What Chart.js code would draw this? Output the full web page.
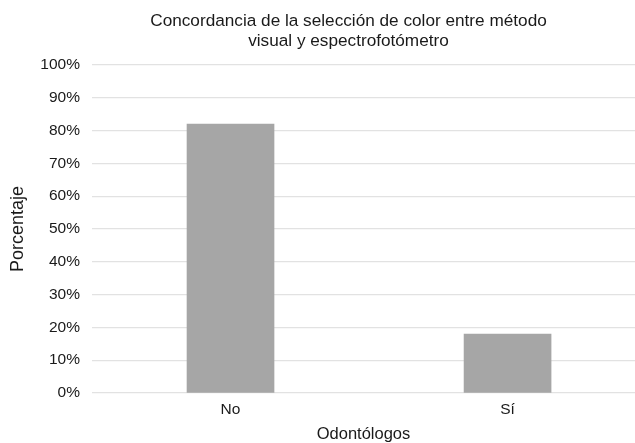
<!DOCTYPE html>
<html>
<head>
<meta charset="utf-8">
<script src="https://cdn.jsdelivr.net/npm/chart.js@4.4.1/dist/chart.umd.min.js"></script>
<style>
  html, body { margin: 0; padding: 0; background: #ffffff; }
  #wrap { width: 635px; height: 443px; }
</style>
</head>
<body>
<div id="wrap"><canvas id="chart"></canvas></div>
<script>
// Respuestas de los odontólogos
const categories = ['No', 'Sí'];
const percentages = [82, 18];
const titleLines = ['Concordancia de la selección de color entre método', 'visual y espectrofotómetro'];
const yTickValues = [0, 10, 20, 30, 40, 50, 60, 70, 80, 90, 100];

const FONT = '"Liberation Sans", Arial, Helvetica, sans-serif';
const TEXT = '#1a1a1a';

// Two-line title centred slightly left of the plot panel
const titlePlugin = {
  id: 'twoLineTitle',
  afterDraw(chart) {
    const { ctx, chartArea } = chart;
    const cx = (chartArea.left + chartArea.right) / 2 - 15;
    ctx.save();
    ctx.font = '17.2px ' + FONT;
    ctx.fillStyle = TEXT;
    ctx.textAlign = 'center';
    ctx.textBaseline = 'alphabetic';
    titleLines.forEach((line, i) => ctx.fillText(line, cx, 26 + i * 20));
    ctx.restore();
  }
};

new Chart(document.getElementById('chart'), {
  type: 'bar',
  data: {
    datasets: [{
      data: categories.map((c, i) => ({ x: i + 1, y: percentages[i] })),
      backgroundColor: '#a6a6a6',
      borderWidth: 0,
      barThickness: 87
    }]
  },
  options: {
    responsive: true,
    maintainAspectRatio: false,
    animation: false,
    devicePixelRatio: 1,
    layout: { padding: { top: 65, right: 0, bottom: 0, left: 0 } },
    plugins: {
      legend: { display: false },
      title: { display: false },
      tooltip: { enabled: false }
    },
    scales: {
      x: {
        type: 'linear',
        offset: false,
        min: 0.5,
        max: 2.46,
        afterBuildTicks(scale) {
          scale.ticks = categories.map((c, i) => ({ value: i + 1 }));
        },
        afterFit(scale) { scale.height = 50; },
        ticks: {
          autoSkip: false,
          maxRotation: 0,
          padding: 7,
          color: TEXT,
          font: { family: FONT, size: 15.5 },
          callback: (v) => categories[v - 1]
        },
        grid: { display: false, drawTicks: false },
        border: { display: false },
        title: {
          display: true,
          text: 'Odontólogos',
          color: TEXT,
          font: { family: FONT, size: 16.5, lineHeight: 1 },
          padding: { top: 0, bottom: 0 }
        }
      },
      y: {
        min: 0,
        max: 100,
        afterBuildTicks(scale) {
          scale.ticks = yTickValues.map(v => ({ value: v }));
        },
        afterFit(scale) { scale.width = 92; },
        ticks: {
          padding: 12,
          color: TEXT,
          font: { family: FONT, size: 15.5 },
          callback: (v) => v + '%'
        },
        grid: { color: '#e2e2e2', lineWidth: 1.2, drawTicks: false },
        border: { display: false },
        title: {
          display: true,
          text: 'Porcentaje',
          color: TEXT,
          font: { family: FONT, size: 18 },
          padding: { top: 7, bottom: 0 }
        }
      }
    }
  },
  plugins: [titlePlugin]
});
</script>
</body>
</html>
